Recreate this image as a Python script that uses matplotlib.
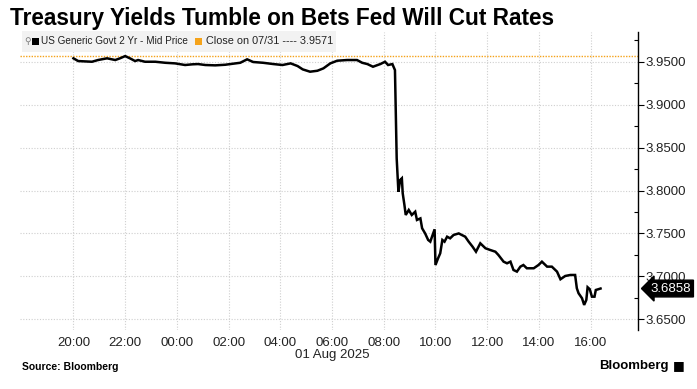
import numpy as np
import matplotlib
matplotlib.use("Agg")
import matplotlib.pyplot as plt
from matplotlib.patches import Rectangle

# 2-year Treasury yield (ET)
times = [
    "2025-07-31 20:00", "2025-07-31 20:11", "2025-07-31 20:43", "2025-07-31 20:57",
    "2025-07-31 21:18", "2025-07-31 21:37", "2025-07-31 21:48", "2025-07-31 22:00",
    "2025-07-31 22:11", "2025-07-31 22:23", "2025-07-31 22:30", "2025-07-31 22:46",
    "2025-07-31 23:10", "2025-07-31 23:33", "2025-07-31 23:56",
    "2025-08-01 00:19", "2025-08-01 00:36", "2025-08-01 00:49", "2025-08-01 01:06",
    "2025-08-01 01:29", "2025-08-01 01:52", "2025-08-01 02:04", "2025-08-01 02:27",
    "2025-08-01 02:43", "2025-08-01 02:57", "2025-08-01 03:20", "2025-08-01 03:44",
    "2025-08-01 04:05", "2025-08-01 04:24", "2025-08-01 04:40", "2025-08-01 04:52",
    "2025-08-01 05:09", "2025-08-01 05:26", "2025-08-01 05:40", "2025-08-01 05:56",
    "2025-08-01 06:12", "2025-08-01 06:35", "2025-08-01 06:58", "2025-08-01 07:10",
    "2025-08-01 07:22", "2025-08-01 07:35", "2025-08-01 07:52", "2025-08-01 08:03",
    "2025-08-01 08:10", "2025-08-01 08:20", "2025-08-01 08:26", "2025-08-01 08:30",
    "2025-08-01 08:33", "2025-08-01 08:34", "2025-08-01 08:38", "2025-08-01 08:42",
    "2025-08-01 08:44", "2025-08-01 08:48", "2025-08-01 08:51", "2025-08-01 08:58",
    "2025-08-01 09:05", "2025-08-01 09:13", "2025-08-01 09:17", "2025-08-01 09:25",
    "2025-08-01 09:29", "2025-08-01 09:36", "2025-08-01 09:43", "2025-08-01 09:48",
    "2025-08-01 09:52", "2025-08-01 09:58", "2025-08-01 10:00", "2025-08-01 10:06",
    "2025-08-01 10:11", "2025-08-01 10:16", "2025-08-01 10:21", "2025-08-01 10:27",
    "2025-08-01 10:34", "2025-08-01 10:42", "2025-08-01 10:54", "2025-08-01 11:01",
    "2025-08-01 11:09", "2025-08-01 11:17", "2025-08-01 11:26", "2025-08-01 11:34",
    "2025-08-01 11:44", "2025-08-01 11:56", "2025-08-01 12:07", "2025-08-01 12:19",
    "2025-08-01 12:26", "2025-08-01 12:38", "2025-08-01 12:46", "2025-08-01 12:54",
    "2025-08-01 13:01", "2025-08-01 13:09", "2025-08-01 13:17", "2025-08-01 13:24",
    "2025-08-01 13:32", "2025-08-01 13:48", "2025-08-01 13:59", "2025-08-01 14:07",
    "2025-08-01 14:19", "2025-08-01 14:30", "2025-08-01 14:42", "2025-08-01 14:50",
    "2025-08-01 15:01", "2025-08-01 15:13", "2025-08-01 15:24", "2025-08-01 15:28",
    "2025-08-01 15:32", "2025-08-01 15:40", "2025-08-01 15:45", "2025-08-01 15:50",
    "2025-08-01 15:53", "2025-08-01 15:58", "2025-08-01 16:03", "2025-08-01 16:09",
    "2025-08-01 16:12", "2025-08-01 16:18", "2025-08-01 16:23",
]
yields = [
    3.9540, 3.9508, 3.9500, 3.9520,
    3.9540, 3.9520, 3.9540, 3.9566,
    3.9540, 3.9508, 3.9520, 3.9500,
    3.9500, 3.9488, 3.9481,
    3.9462, 3.9470, 3.9473, 3.9462,
    3.9458, 3.9465, 3.9473, 3.9488,
    3.9528, 3.9497, 3.9488, 3.9473,
    3.9462, 3.9481, 3.9450, 3.9411,
    3.9384, 3.9395, 3.9423, 3.9481,
    3.9512, 3.9520, 3.9520, 3.9488,
    3.9473, 3.9442, 3.9473, 3.9500,
    3.9462, 3.9473, 3.9403, 3.8375,
    3.8084, 3.7986, 3.8122, 3.8142,
    3.7967, 3.7830, 3.7715, 3.7773,
    3.7715, 3.7753, 3.7657, 3.7675,
    3.7560, 3.7500, 3.7424, 3.7404,
    3.7462, 3.7548, 3.7132, 3.7210,
    3.7268, 3.7424, 3.7404, 3.7462,
    3.7443, 3.7482, 3.7500, 3.7482,
    3.7462, 3.7404, 3.7346, 3.7287,
    3.7385, 3.7327, 3.7307, 3.7287,
    3.7249, 3.7171, 3.7152, 3.7171,
    3.7074, 3.7055, 3.7113, 3.7132,
    3.7094, 3.7094, 3.7132, 3.7171,
    3.7113, 3.7113, 3.7055, 3.6966,
    3.7004, 3.7016, 3.7016, 3.6861,
    3.6803, 3.6745, 3.6667, 3.6725,
    3.6873, 3.6850, 3.6763, 3.6763,
    3.6841, 3.6850, 3.6858,
]
prev_close = 3.9571
last_value = 3.6858
x_ticks = ["2025-07-31 20:00", "2025-07-31 22:00", "2025-08-01 00:00",
           "2025-08-01 02:00", "2025-08-01 04:00", "2025-08-01 06:00",
           "2025-08-01 08:00", "2025-08-01 10:00", "2025-08-01 12:00",
           "2025-08-01 14:00", "2025-08-01 16:00"]
x_labels = ["20:00", "22:00", "00:00", "02:00", "04:00", "06:00\n01 Aug 2025",
            "08:00", "10:00", "12:00", "14:00", "16:00"]
y_ticks = [3.65, 3.70, 3.75, 3.80, 3.85, 3.90, 3.95]

x = np.array(times, dtype="datetime64[m]")
y = np.array(yields)

plt.rcParams["font.family"] = ["Liberation Sans", "DejaVu Sans"]

fig = plt.figure(figsize=(6.97, 3.89), dpi=100)
ax = fig.add_axes([0.0287, 0.1517, 0.8867, 0.7668])

ax.plot(x, y, color="black", lw=1.8, solid_joinstyle="miter", zorder=3)
ax.axhline(prev_close, color="#f5a31a", lw=1, ls=(0, (1, 1)), zorder=2)

ax.set_xlim(np.datetime64("2025-07-31T17:56"), np.datetime64("2025-08-01T17:50"))
ax.set_ylim(3.6375, 3.985)

ax.yaxis.tick_right()
ax.set_yticks(y_ticks)
ax.set_yticks([v + 0.025 for v in y_ticks], minor=True)
ax.yaxis.set_major_formatter(plt.FormatStrFormatter("%.4f"))
ax.tick_params(axis="y", which="major", length=4, width=0.8, labelsize=9.5,
               pad=1, labelcolor="#222222")
ax.tick_params(axis="y", which="minor", length=3, width=0.8, direction="in")

ax.set_xticks(np.array(x_ticks, dtype="datetime64[m]"))
ax.set_xticklabels(x_labels, linespacing=1.05)
ax.tick_params(axis="x", length=0, labelsize=9.5, pad=5, labelcolor="#222222")

ax.grid(True, color="#cfcfcf", ls=(0, (1, 1.5)), lw=0.8)
for s in ["left", "top", "bottom"]:
    ax.spines[s].set_visible(False)
ax.spines["right"].set_linewidth(1)

# last value tag
ax.annotate(f"{last_value:.4f}", xy=(1.0, last_value),
            xycoords=("axes fraction", "data"),
            xytext=(9, 0), textcoords="offset points",
            ha="left", va="center", color="white", fontsize=9.5,
            bbox=dict(boxstyle="larrow,pad=0.18", fc="black", ec="black"),
            annotation_clip=False, zorder=6)

# legend strip
fig.patches.append(Rectangle((22 / 697, 1 - 52 / 389), 314 / 697, 21 / 389,
                             transform=fig.transFigure, fc="#f2f2f2", ec="none", zorder=5))
ly = 1 - 41.5 / 389
fig.text(24 / 697, ly, "\u26b2", fontsize=6.5, color="#777777", va="center",
         family="DejaVu Sans", zorder=6)
fig.patches.append(Rectangle((32 / 697, ly - 3.5 / 389), 7 / 697, 7 / 389,
                             transform=fig.transFigure, fc="black", zorder=6))
fig.text(41 / 697, ly, "US Generic Govt 2 Yr - Mid Price", fontsize=7.2,
         va="center", color="#222222", zorder=6)
fig.patches.append(Rectangle((195 / 697, ly - 3.5 / 389), 7 / 697, 7 / 389,
                             transform=fig.transFigure, fc="#f5a31a", zorder=6))
fig.text(206 / 697, ly, "Close on 07/31 ---- 3.9571", fontsize=7.8,
         va="center", color="#222222", zorder=6)

fig.text(10 / 697, 1 - 18 / 389, "Treasury Yields Tumble on Bets Fed Will Cut Rates",
         fontsize=16.3, fontweight="bold", va="center", ha="left")
fig.text(22 / 697, 1 - 367 / 389, "Source: Bloomberg", fontsize=7.5,
         fontweight="bold", va="center")
fig.text(669 / 697, 1 - 366 / 389, "Bloomberg", fontsize=9.5, fontweight="bold",
         va="center", ha="right")
fig.text(673 / 697, 1 - 366 / 389, "\u25a0", fontsize=9, va="center", ha="left",
         family="DejaVu Sans")

fig.savefig("out.png", dpi=100)
